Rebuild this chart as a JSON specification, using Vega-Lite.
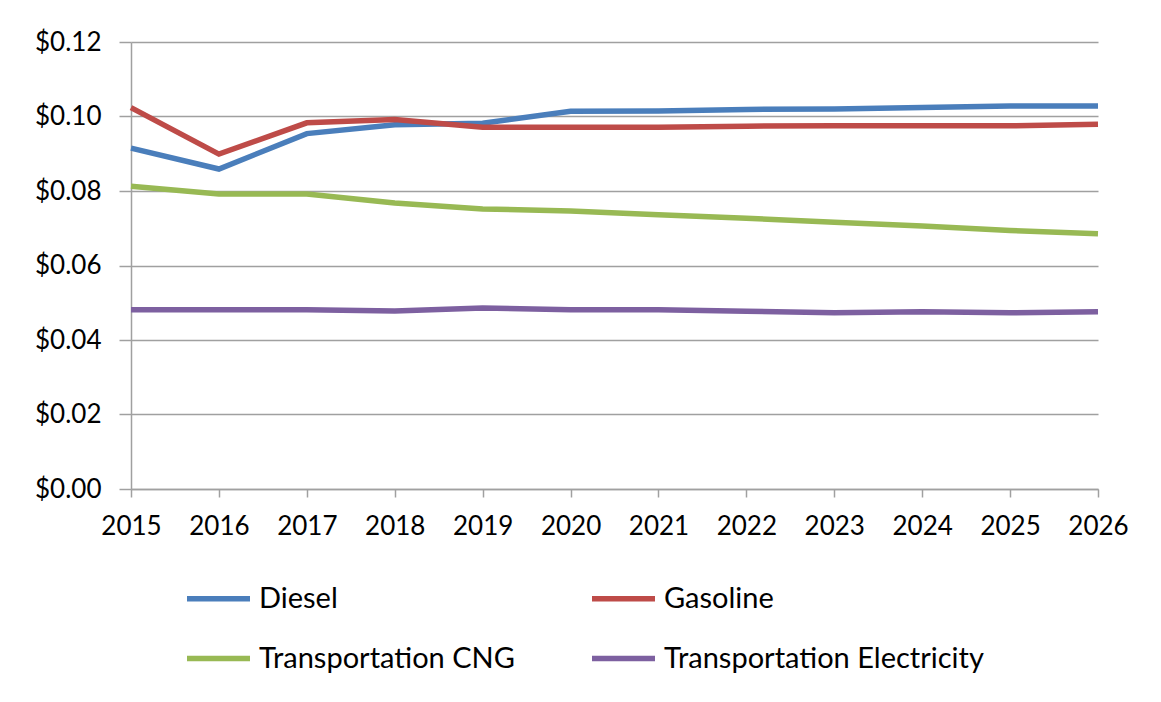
{
  "$schema": "https://vega.github.io/schema/vega-lite/v6.json",
  "width": 967,
  "height": 447,
  "autosize": "none",
  "padding": {"left": 131, "top": 42, "right": 63, "bottom": 213},
  "background": "white",
  "config": {"view": {"stroke": null}, "font": "Lato"},
  "data": {"values": [
    {"year": 2015, "fuel": "Diesel", "price": 0.0915},
    {"year": 2016, "fuel": "Diesel", "price": 0.0859},
    {"year": 2017, "fuel": "Diesel", "price": 0.0954},
    {"year": 2018, "fuel": "Diesel", "price": 0.0978},
    {"year": 2019, "fuel": "Diesel", "price": 0.0982},
    {"year": 2020, "fuel": "Diesel", "price": 0.1014},
    {"year": 2021, "fuel": "Diesel", "price": 0.1015},
    {"year": 2022, "fuel": "Diesel", "price": 0.1019},
    {"year": 2023, "fuel": "Diesel", "price": 0.1020},
    {"year": 2024, "fuel": "Diesel", "price": 0.1024},
    {"year": 2025, "fuel": "Diesel", "price": 0.1028},
    {"year": 2026, "fuel": "Diesel", "price": 0.1028},
    {"year": 2015, "fuel": "Gasoline", "price": 0.1024},
    {"year": 2016, "fuel": "Gasoline", "price": 0.0899},
    {"year": 2017, "fuel": "Gasoline", "price": 0.0983},
    {"year": 2018, "fuel": "Gasoline", "price": 0.0992},
    {"year": 2019, "fuel": "Gasoline", "price": 0.0971},
    {"year": 2020, "fuel": "Gasoline", "price": 0.0971},
    {"year": 2021, "fuel": "Gasoline", "price": 0.0971},
    {"year": 2022, "fuel": "Gasoline", "price": 0.0974},
    {"year": 2023, "fuel": "Gasoline", "price": 0.0975},
    {"year": 2024, "fuel": "Gasoline", "price": 0.0975},
    {"year": 2025, "fuel": "Gasoline", "price": 0.0975},
    {"year": 2026, "fuel": "Gasoline", "price": 0.0979},
    {"year": 2015, "fuel": "Transportation CNG", "price": 0.0813},
    {"year": 2016, "fuel": "Transportation CNG", "price": 0.0792},
    {"year": 2017, "fuel": "Transportation CNG", "price": 0.0792},
    {"year": 2018, "fuel": "Transportation CNG", "price": 0.0768},
    {"year": 2019, "fuel": "Transportation CNG", "price": 0.0752},
    {"year": 2020, "fuel": "Transportation CNG", "price": 0.0746},
    {"year": 2021, "fuel": "Transportation CNG", "price": 0.0736},
    {"year": 2022, "fuel": "Transportation CNG", "price": 0.0727},
    {"year": 2023, "fuel": "Transportation CNG", "price": 0.0716},
    {"year": 2024, "fuel": "Transportation CNG", "price": 0.0706},
    {"year": 2025, "fuel": "Transportation CNG", "price": 0.0694},
    {"year": 2026, "fuel": "Transportation CNG", "price": 0.0685},
    {"year": 2015, "fuel": "Transportation Electricity", "price": 0.0481},
    {"year": 2016, "fuel": "Transportation Electricity", "price": 0.0481},
    {"year": 2017, "fuel": "Transportation Electricity", "price": 0.0481},
    {"year": 2018, "fuel": "Transportation Electricity", "price": 0.0478},
    {"year": 2019, "fuel": "Transportation Electricity", "price": 0.0486},
    {"year": 2020, "fuel": "Transportation Electricity", "price": 0.0481},
    {"year": 2021, "fuel": "Transportation Electricity", "price": 0.0481},
    {"year": 2022, "fuel": "Transportation Electricity", "price": 0.0477},
    {"year": 2023, "fuel": "Transportation Electricity", "price": 0.0473},
    {"year": 2024, "fuel": "Transportation Electricity", "price": 0.0476},
    {"year": 2025, "fuel": "Transportation Electricity", "price": 0.0473},
    {"year": 2026, "fuel": "Transportation Electricity", "price": 0.0476}
  ]},
  "mark": {"type": "line", "strokeWidth": 5.5, "interpolate": "linear"},
  "encoding": {
    "x": {
      "field": "year", "type": "quantitative",
      "scale": {"domain": [2015, 2026], "nice": false, "zero": false},
      "axis": {
        "title": null, "format": "d",
        "values": [2015, 2016, 2017, 2018, 2019, 2020, 2021, 2022, 2023, 2024, 2025, 2026],
        "grid": false, "domainColor": "#a0a0a0", "domainWidth": 1.5,
        "tickColor": "#a0a0a0", "tickWidth": 1.5, "tickSize": 8,
        "labelFontSize": 26, "labelColor": "#000000", "labelPadding": 16,
        "labelFlush": false, "labelOverlap": false
      }
    },
    "y": {
      "field": "price", "type": "quantitative",
      "scale": {"domain": [0, 0.12], "nice": false},
      "axis": {
        "title": null, "format": "$.2f",
        "values": [0, 0.02, 0.04, 0.06, 0.08, 0.1, 0.12],
        "grid": true, "gridColor": "#a0a0a0", "gridWidth": 1.5,
        "domainColor": "#a0a0a0", "domainWidth": 1.5,
        "tickColor": "#a0a0a0", "tickWidth": 1.5, "tickSize": 12,
        "labelFontSize": 26, "labelColor": "#000000", "labelPadding": 18,
        "labelFlush": false, "labelOverlap": false
      }
    },
    "color": {
      "field": "fuel", "type": "nominal",
      "scale": {
        "domain": ["Diesel", "Gasoline", "Transportation CNG", "Transportation Electricity"],
        "range": ["#4A7EBB", "#BE4B48", "#98B954", "#7D60A0"]
      },
      "legend": {
        "title": null, "orient": "none", "legendX": 53, "legendY": 522,
        "direction": "horizontal", "columns": 2,
        "symbolType": "stroke", "symbolSize": 3969, "symbolStrokeWidth": 5.5,
        "labelFontSize": 29, "labelColor": "#000000", "labelOffset": 6,
        "labelLimit": 500, "columnPadding": 66, "rowPadding": 10
      }
    }
  }
}
